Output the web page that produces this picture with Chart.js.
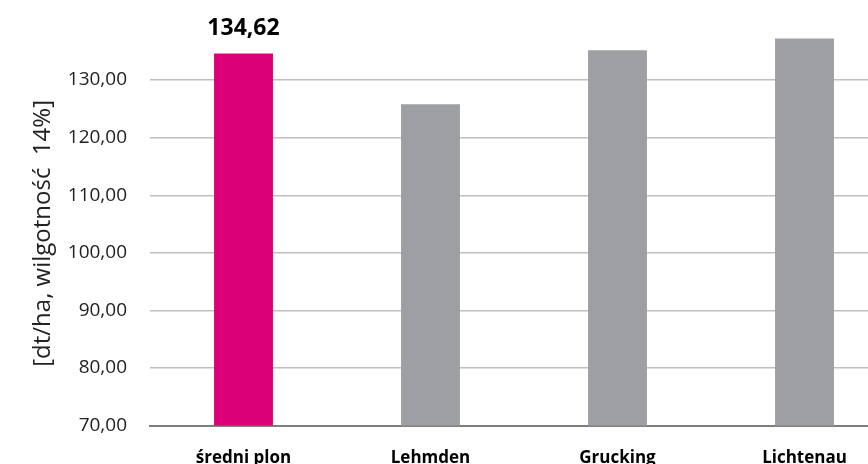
<!DOCTYPE html>
<html>
<head>
<meta charset="utf-8">
<script src="https://cdn.jsdelivr.net/npm/chart.js@4/dist/chart.umd.min.js"></script>
<style>
  html, body { margin: 0; padding: 0; background: #fff; }
  #wrap { width: 868px; height: 464px; overflow: hidden; position: relative; }
  #yield-chart { position: absolute; left: 0; top: 0; }
</style>
</head>
<body>
<div id="wrap">
  <canvas id="yield-chart" width="900" height="490"></canvas>
</div>
<script>
// yields per location, dt/ha at 14% moisture
const locations = ['średni plon', 'Lehmden', 'Grucking', 'Lichtenau'];
const yields = [134.62, 125.8, 135.2, 137.2];
const barColors = ['#dc0078', '#9d9fa2', '#9d9fa2', '#9d9fa2'];
const yMin = 70;
const yMax = 140;
const yStep = 10;
// only the first bar gets a value label
const labelledBars = [0];

const fmt = v => v.toFixed(2).replace('.', ',');

// writes the value above the labelled bars
const valueLabels = {
    id: 'valueLabels',
    afterDatasetsDraw(chart) {
        const { ctx } = chart;
        const meta = chart.getDatasetMeta(0);
        ctx.save();
        ctx.font = 'bold 23px "Open Sans"';
        ctx.fillStyle = '#000';
        ctx.textAlign = 'center';
        ctx.textBaseline = 'middle';
        labelledBars.forEach(i => {
            const bar = meta.data[i];
            ctx.fillText(fmt(yields[i]), bar.x, bar.y - 25);
        });
        ctx.restore();
    }
};

new Chart(document.querySelector('#yield-chart').getContext('2d'), {
    type: 'bar',
    data: {
        labels: locations,
        datasets: [{
            data: yields,
            backgroundColor: barColors,
            borderWidth: 0,
            categoryPercentage: 1,
            barPercentage: 0.315
        }]
    },
    options: {
        responsive: false,
        animation: false,
        devicePixelRatio: 1,
        layout: { padding: { top: 22.5, right: 2, bottom: 0, left: 0 } },
        plugins: {
            legend: { display: false },
            tooltip: { enabled: false }
        },
        scales: {
            x: {
                grid: { display: false, drawTicks: false },
                border: { display: true, color: '#7f7f7f', width: 2 },
                ticks: {
                    color: '#000',
                    padding: 22,
                    font: { family: '"Open Sans"', size: 17, weight: 'bold' }
                }
            },
            y: {
                min: yMin,
                max: yMax,
                afterFit(scale) { scale.width = 150; },
                grid: {
                    // tick marks only make room for the labels
                    drawTicks: true,
                    tickLength: 23,
                    tickColor: 'rgba(0,0,0,0)',
                    lineWidth: 1.5,
                    color: c => (c.tick && (c.tick.value === yMax || c.tick.value === yMin)) ? 'rgba(0,0,0,0)' : '#bfbfbf'
                },
                border: { display: false },
                ticks: {
                    stepSize: yStep,
                    color: '#222',
                    padding: 0,
                    font: { family: '"Open Sans"', size: 19 },
                    callback: v => v === yMax ? '' : fmt(v)
                },
                title: {
                    display: true,
                    text: '[dt/ha, wilgotność  14%]   ',
                    color: '#222',
                    padding: { top: 29, bottom: 0 },
                    font: { family: '"Open Sans"', size: 24 }
                }
            }
        }
    },
    plugins: [valueLabels]
});
</script>
</body>
</html>
